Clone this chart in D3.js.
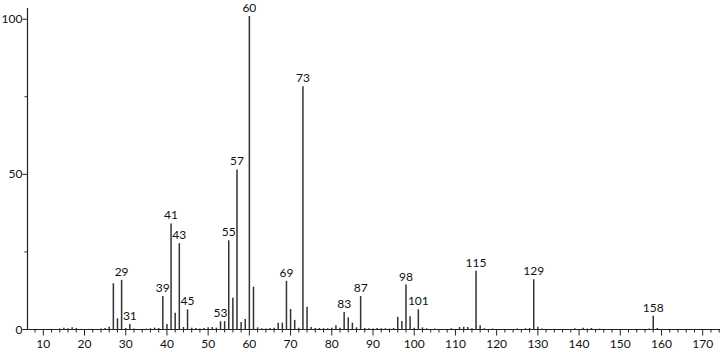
<!DOCTYPE html>
<html><head><meta charset="utf-8">
<script src="https://cdn.jsdelivr.net/npm/d3@7"></script>
<style>html,body{margin:0;padding:0;background:#fff;}svg{display:block;}</style>
</head><body>
<script>
// m/z values and relative intensities
const mz = [14,15,16,17,18,19,21,23,24,25,26,27,28,29,30,31,32,35,36,37,38,39,40,41,42,43,44,45,46,47,48,49,50,51,52,53,54,55,56,57,58,59,60,61,62,63,64,65,66,67,68,69,70,71,72,73,74,75,76,77,78,79,80,81,82,83,84,85,86,87,88,89,90,91,92,93,94,95,96,97,98,99,100,101,102,103,105,107,109,111,112,113,114,115,116,117,119,125,127,128,129,130,131,139,141,142,143,145,157,158,159];
const intensity = [0.3,0.6,0.4,0.7,0.5,0.2,0.2,0.2,0.3,0.5,0.9,14.9,3.6,16.0,0.5,1.8,0.3,0.3,0.4,0.6,0.5,10.8,1.8,34.2,5.4,27.8,0.8,6.5,0.6,0.5,0.3,0.5,0.7,0.8,0.6,2.7,2.7,28.8,10.2,51.6,2.4,3.4,101,13.8,0.7,0.4,0.3,0.5,0.6,2.2,2.2,15.7,6.6,3.1,0.6,78.4,7.3,0.8,0.5,0.5,0.4,0.4,0.6,1.4,0.6,5.6,3.9,2.2,0.7,10.8,0.5,0.4,0.3,0.5,0.4,0.4,0.3,0.5,4.1,2.7,14.5,4.3,0.6,6.5,0.7,0.4,0.3,0.2,0.4,0.8,0.9,0.8,0.4,18.9,1.4,0.4,0.3,0.3,0.4,0.5,16.2,0.9,0.3,0.4,0.6,0.3,0.5,0.3,0.3,4.4,0.5];
const labeled = [29,31,39,41,43,45,53,55,57,60,69,73,83,87,98,101,115,129,158];
const xTicks = [10,20,30,40,50,60,70,80,90,100,110,120,130,140,150,160,170];
const yTicks = [0,50,100];
const yMinorTicks = [25,75];

const W = 720, H = 352;
const svg = d3.select("body").append("svg").attr("width", W).attr("height", H);

const x = d3.scaleLinear().domain([10,170]).range([43.3,702.7]);
const y = d3.scaleLinear().domain([0,100]).range([329.5,19.2]);
const font = "Lato, 'DejaVu Sans', sans-serif";
const axisColor = "#222";

// axes lines
const x0 = 27.5;
svg.append("line").attr("x1", x0).attr("x2", x0).attr("y1", 8).attr("y2", y(0))
  .attr("stroke", axisColor).attr("stroke-width", 1.2);
svg.append("line").attr("x1", x0).attr("x2", W).attr("y1", y(0)).attr("y2", y(0))
  .attr("stroke", axisColor).attr("stroke-width", 1.2);

// y ticks
svg.selectAll(".yt").data(yTicks).enter().append("line")
  .attr("x1", x0 - 5).attr("x2", x0).attr("y1", d => y(d)).attr("y2", d => y(d))
  .attr("stroke", axisColor).attr("stroke-width", 1);
svg.selectAll(".ym").data(yMinorTicks).enter().append("line")
  .attr("x1", x0 - 3).attr("x2", x0).attr("y1", d => y(d)).attr("y2", d => y(d))
  .attr("stroke", axisColor).attr("stroke-width", 1);
svg.selectAll(".yl").data(yTicks).enter().append("text")
  .attr("x", x0 - 5).attr("y", d => y(d) + 4).attr("text-anchor", "end")
  .attr("font-family", font).attr("font-size", 12).attr("fill", "#111").text(d => d);

// x ticks
const minor = d3.range(8, 175, 2).filter(v => v % 10 !== 0 && x(v) > x0 && x(v) < W);
svg.selectAll(".xm").data(minor).enter().append("line")
  .attr("x1", d => x(d)).attr("x2", d => x(d)).attr("y1", y(0)).attr("y2", y(0) + 3)
  .attr("stroke", axisColor).attr("stroke-width", 1);
svg.selectAll(".xt").data(xTicks).enter().append("line")
  .attr("x1", d => x(d)).attr("x2", d => x(d)).attr("y1", y(0)).attr("y2", y(0) + 6)
  .attr("stroke", axisColor).attr("stroke-width", 1);
svg.selectAll(".xl").data(xTicks).enter().append("text")
  .attr("x", d => x(d)).attr("y", 348).attr("text-anchor", "middle")
  .attr("font-family", font).attr("font-size", 12).attr("fill", "#111").text(d => d);

// peaks
const peaks = mz.map((m, i) => ({m, v: intensity[i]}));
svg.selectAll(".pk").data(peaks).enter().append("line")
  .attr("x1", d => x(d.m)).attr("x2", d => x(d.m))
  .attr("y1", y(0)).attr("y2", d => y(d.v))
  .attr("stroke", "#333").attr("stroke-width", 1.5);

// labels
const lab = peaks.filter(d => labeled.includes(d.m));
svg.selectAll(".pl").data(lab).enter().append("text")
  .attr("x", d => x(d.m)).attr("y", d => y(d.v) - 4).attr("text-anchor", "middle")
  .attr("font-family", font).attr("font-size", 12).attr("fill", "#111").text(d => d.m);
</script>
</body></html>
